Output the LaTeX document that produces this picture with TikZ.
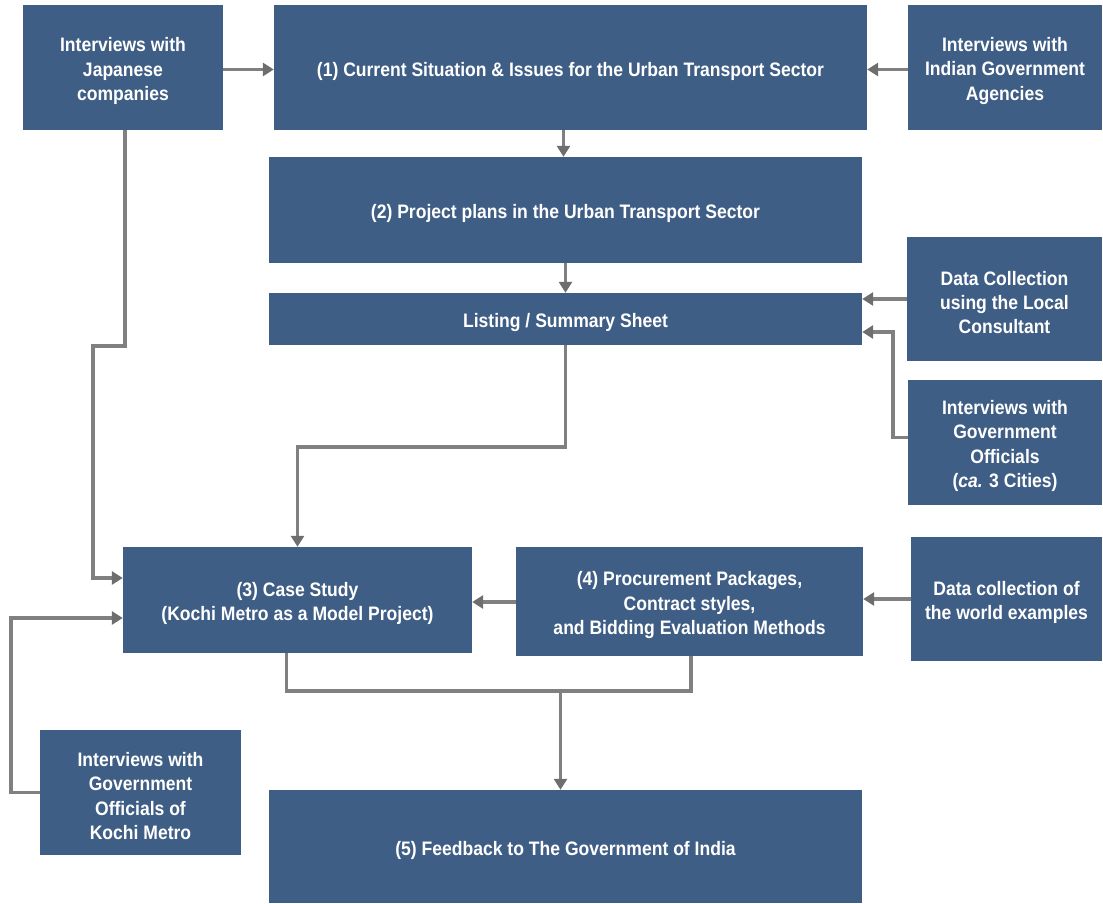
\documentclass[tikz,border=0pt]{standalone}
\usepackage{fontspec}
\setmainfont[FakeStretch=0.9]{Liberation Sans}
\usetikzlibrary{arrows.meta,calc}
\definecolor{boxblue}{RGB}{63,94,133}
\definecolor{linkgray}{RGB}{128,128,128}
\definecolor{tipgray}{RGB}{110,110,110}
\begin{document}
\begin{tikzpicture}[x=1pt,y=-1pt,
  box/.style={fill=boxblue,draw=none,inner sep=0pt},
  lbl/.style={text=white,align=center,inner sep=0pt,yshift=-3.5pt,
    font=\fontsize{19.5}{24.3}\selectfont\bfseries},
  link/.style={draw=linkgray,line width=3.5pt},
  conn/.style={link,-{Triangle[length=11pt,width=13pt,color=tipgray]}}]
\useasboundingbox (0,0) rectangle (1103,904);

% top row
\node[box,minimum width=200,minimum height=125,label={[lbl]center:Interviews with\\Japanese\\companies}] (jp) at (123,67.5) {};
\node[box,minimum width=593,minimum height=125,label={[lbl]center:(1) Current Situation \& Issues for the Urban Transport Sector}] (c1) at (570.5,67.5) {};
\node[box,minimum width=194,minimum height=125,label={[lbl]center:Interviews with\\Indian Government\\Agencies}] (ig) at (1005,67.5) {};

% project plans and listing
\node[box,minimum width=593,minimum height=106,label={[lbl]center:(2) Project plans in the Urban Transport Sector}] (c2) at (565.5,210) {};
\node[box,minimum width=593,minimum height=52,label={[lbl]center:Listing / Summary Sheet}] (ls) at (565.5,319) {};

% right-hand sources
\node[box,minimum width=195,minimum height=124,label={[lbl]center:Data Collection\\using the Local\\Consultant}] (dl) at (1004.5,299) {};
\node[box,minimum width=194,minimum height=125,label={[lbl]center:Interviews with\\Government\\Officials\\(\textit{ca.} 3 Cities)}] (oc) at (1005,442.5) {};

% case study and procurement
\node[box,minimum width=349,minimum height=106,label={[lbl]center:(3) Case Study\\(Kochi Metro as a Model Project)}] (c3) at (297.5,600) {};
\node[box,minimum width=347,minimum height=109,label={[lbl]center:(4) Procurement Packages,\\Contract styles,\\and Bidding Evaluation Methods}] (p4) at (689.5,601.5) {};
\node[box,minimum width=191,minimum height=124,label={[lbl]center:Data collection of\\the world examples}] (wd) at (1006.5,599) {};

% bottom row
\node[box,minimum width=201,minimum height=125,label={[lbl]center:Interviews with\\Government\\Officials of\\Kochi Metro}] (km) at (140.5,792.5) {};
\node[box,minimum width=593,minimum height=113,label={[lbl]center:(5) Feedback to The Government of India}] (c5) at (565.5,846.5) {};

% connectors
\draw[conn] ($(jp.east)+(0,2)$) -- ($(c1.west)+(0,2)$);
\draw[conn] ($(ig.west)+(0,2)$) -- ($(c1.east)+(0,2)$);
\draw[conn] ($(c1.south)+(-7,0)$) -- ($(c2.north)+(-2,0)$);
\draw[conn] (c2.south) -- (ls.north);
\draw[conn] (dl.west) -- (dl.west -| ls.east);
\draw[conn] ($(oc.west)+(0,-5)$) -- ++(-15,0) |- ($(ls.east)+(0,13)$);
\draw[conn] (ls.south) -- ++(0,102) -| (c3.north);
\draw[conn] ($(jp.south)+(2,0)$) -- ++(0,216) -- ++(-32,0) |- ($(c3.west)+(0,-22)$);
\draw[conn] ($(p4.west)+(0,0.5)$) -- ($(c3.east)+(0,2)$);
\draw[conn] (wd.west) -- (wd.west -| p4.east);
\draw[conn] (km.west) -- ++(-29,0) |- ($(c3.west)+(0,18)$);
\draw[link] ($(c3.south)+(-11,0)$) -- ++(0,38) -| ($(p4.south)+(1.5,0)$);
\coordinate (mj) at ($(c5.north)+(-5,-99)$);
\draw[conn] (mj) -- ($(c5.north)+(-5,0)$);
\end{tikzpicture}
\end{document}
